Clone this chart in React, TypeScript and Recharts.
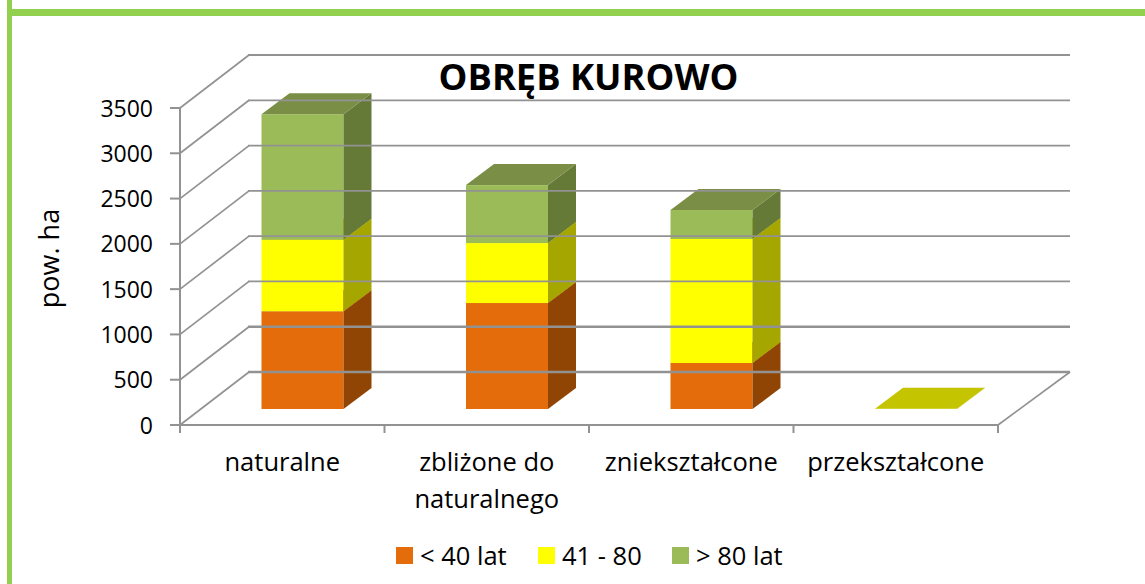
import React from 'react'
import { BarChart, Bar, XAxis, YAxis, Legend } from 'recharts'

const categories = ['naturalne', 'zbliżone do naturalnego', 'zniekształcone', 'przekształcone']
const young = [1079, 1170, 508, 0]
const middle = [791, 662, 1369, 3]
const old = [1384, 640, 320, 0]
const yTicks = [0, 500, 1000, 1500, 2000, 2500, 3000, 3500]

const data = categories.map((name, i) => ({ name, young: young[i], middle: middle[i], old: old[i] }))

const FONT = "'Open Sans', sans-serif"
const GRID = '#929292'
const WALL_DX = 69
const WALL_DY = 53
const BAND = 204.5

// fake 3D box: front face pushed back onto the floor, then side and top
function boxShape(front: string, side: string, top: string) {
  return (props: any) => {
    const { x, y, width, height } = props
    if (!height || height <= 0) return null
    const fx = x + 20.5
    const fy = y - 16
    const dx = 28
    const dy = 21
    return (
      <g>
        <rect x={fx} y={fy} width={width} height={height} fill={front} />
        <polygon
          points={`${fx + width},${fy} ${fx + width + dx},${fy - dy} ${fx + width + dx},${fy + height - dy} ${fx + width},${fy + height}`}
          fill={side}
        />
        <polygon
          points={`${fx},${fy} ${fx + dx},${fy - dy} ${fx + width + dx},${fy - dy} ${fx + width},${fy}`}
          fill={top}
        />
      </g>
    )
  }
}

function WallTick({ x, y, payload }: any) {
  const heavy = payload.value <= 500
  const ax = x + 8 // recharts hands over the tick end, the axis line sits 8px to the right
  return (
    <g>
      <line x1={ax - 10} x2={ax} y1={y} y2={y} stroke={GRID} strokeWidth={2} />
      <line x1={ax} y1={y} x2={ax + WALL_DX} y2={y - WALL_DY} stroke={GRID} strokeWidth={1.7} />
      <line x1={ax + WALL_DX - 1} x2={1070} y1={y - WALL_DY} y2={y - WALL_DY} stroke={GRID} strokeWidth={heavy ? 2.5 : 1.8} />
      <text x={ax - 27} y={y + 8.5} textAnchor="end" fontFamily={FONT} fontSize={23} fill="#000">
        {payload.value}
      </text>
    </g>
  )
}

function CategoryTick({ x, payload, index }: any) {
  const words = payload.value === 'zbliżone do naturalnego' ? ['zbliżone do', 'naturalnego'] : [payload.value]
  const left = x - BAND / 2
  const right = x + BAND / 2
  return (
    <g>
      <line x1={left} x2={left} y1={425} y2={433} stroke={GRID} strokeWidth={2} />
      {index === categories.length - 1 && (
        <>
          <line x1={right} x2={right} y1={425} y2={433} stroke={GRID} strokeWidth={2} />
          <line x1={right} y1={425} x2={right + 72} y2={372} stroke={GRID} strokeWidth={1.7} />
        </>
      )}
      {words.map((w: string, i: number) => (
        <text key={w} x={x} y={471 + i * 37} textAnchor="middle" fontFamily={FONT} fontSize={25.5} fill="#000">
          {w}
        </text>
      ))}
    </g>
  )
}

function LegendRow({ payload }: any) {
  const itemWidths = [142, 134, 130]
  return (
    <div style={{ display: 'flex', fontFamily: FONT, fontSize: 25.5, color: '#000', lineHeight: '28px' }}>
      {payload.map((entry: any, i: number) => (
        <div key={entry.value} style={{ display: 'flex', alignItems: 'center', width: itemWidths[i] }}>
          <span style={{ width: 17, height: 17, background: entry.color, marginRight: 7, flexShrink: 0 }} />
          <span style={{ whiteSpace: 'nowrap' }}>{entry.value}</span>
        </div>
      ))}
    </div>
  )
}

export default function App() {
  return (
    <div style={{ position: 'absolute', left: 0, top: 0, width: 1145, height: 584, background: '#fff', overflow: 'hidden' }}>
      <div style={{ position: 'absolute', left: 7, top: 0, width: 5, height: 584, background: '#92D050' }} />
      <div style={{ position: 'absolute', left: 7, top: 9, width: 1138, height: 7, background: '#92D050' }} />
      <BarChart
        width={1145}
        height={584}
        data={data}
        margin={{ top: 108, right: 147, bottom: 69, left: 120 }}
        barSize={82}
      >
        <text x={588.5} y={90} textAnchor="middle" fontFamily={FONT} fontSize={36.3} fontWeight={700} fill="#000">
          OBRĘB KUROWO
        </text>
        <text
          x={0}
          y={0}
          transform="translate(58.5,258.5) rotate(-90)"
          textAnchor="middle"
          fontFamily={FONT}
          fontSize={27}
          fill="#000"
        >
          pow. ha
        </text>
        <YAxis
          width={60}
          domain={[0, 3500]}
          ticks={yTicks}
          interval={0}
          axisLine={{ stroke: GRID, strokeWidth: 2 }}
          tickLine={false}
          tick={<WallTick />}
        />
        <XAxis
          dataKey="name"
          height={60}
          interval={0}
          axisLine={{ stroke: GRID, strokeWidth: 2 }}
          tickLine={false}
          tick={<CategoryTick />}
        />
        <Legend
          height={30}
          itemSorter={null}
          content={<LegendRow />}
          wrapperStyle={{ position: 'absolute', left: 396, top: 541, width: 420 }}
        />
        <Bar dataKey="young" name="< 40 lat" stackId="a" fill="#E46C0A" isAnimationActive={false} shape={boxShape('#E46C0A', '#914505', '#B5560A')} />
        <Bar dataKey="middle" name="41 - 80" stackId="a" fill="#FFFF00" isAnimationActive={false} shape={boxShape('#FFFF00', '#A6A600', '#C4C400')} />
        <Bar dataKey="old" name="> 80 lat" stackId="a" fill="#9BBB59" isAnimationActive={false} shape={boxShape('#9BBB59', '#667A37', '#7A8F45')} />
      </BarChart>
    </div>
  )
}
